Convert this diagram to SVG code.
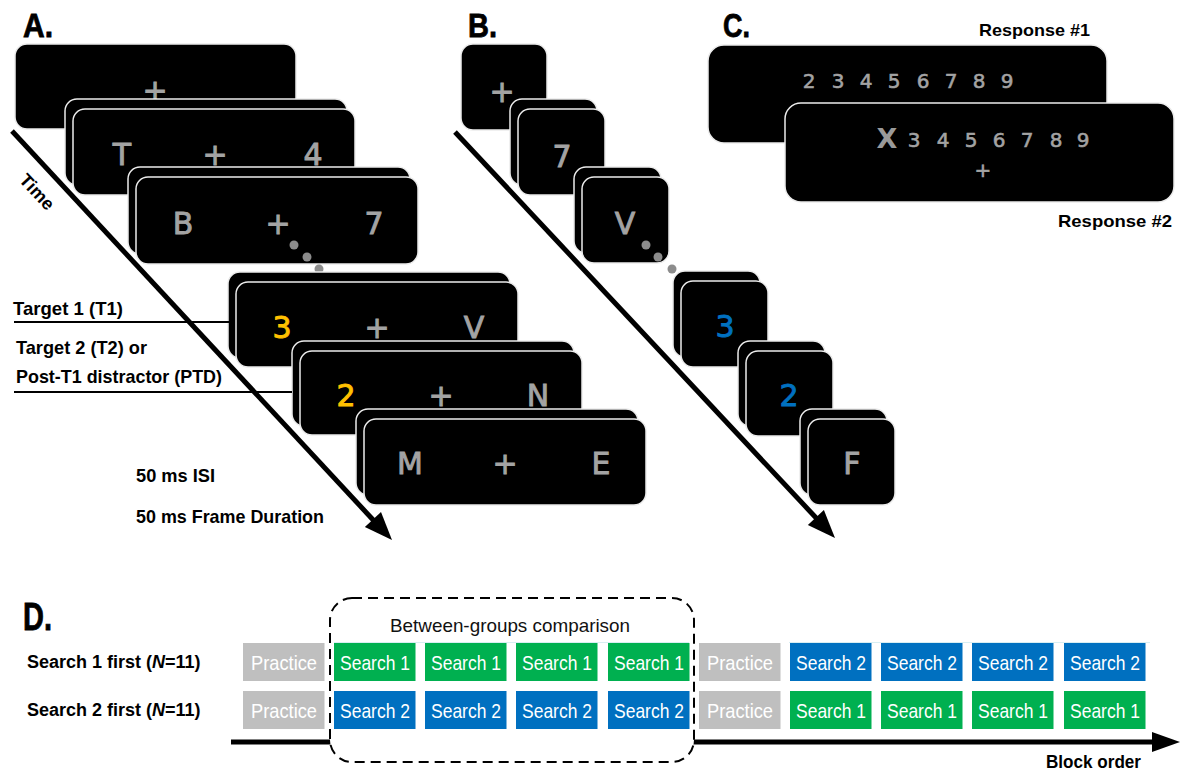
<svg xmlns="http://www.w3.org/2000/svg" width="1180" height="773" viewBox="0 0 1180 773">
  <style>
    .scr { fill: #000; stroke: #ececec; stroke-width: 1.5; }
    .ltr { font-family: "DejaVu Sans", sans-serif; font-size: 30px; fill: #a3a3a3; stroke: #a3a3a3; stroke-width: 0.9; text-anchor: middle; }
    .dig { font-family: "DejaVu Sans", sans-serif; font-size: 20px; fill: #a3a3a3; stroke: #a3a3a3; stroke-width: 0.6; text-anchor: middle; }
    .lab { font-family: "Liberation Sans", Arial, sans-serif; font-weight: bold; fill: #000; }
    .head { font-family: "Liberation Sans", Arial, sans-serif; font-weight: bold; fill: #000; stroke: #000; stroke-width: 0.8; }
    .dot { fill: #8c8c8c; }
    .blk text { font-family: "Liberation Sans", Arial, sans-serif; font-size: 21px; fill: #fff; text-anchor: middle; }
    .g { fill: #00b050; }
    .b { fill: #0070c0; }
    .p { fill: #bfbfbf; }
    .conn { stroke: #000; fill: none; }
  </style>

  <!-- Panel headings -->
  <text class="head" x="23" y="37" font-size="34" textLength="30" lengthAdjust="spacingAndGlyphs">A.</text>
  <text class="head" x="468" y="37" font-size="34" textLength="29" lengthAdjust="spacingAndGlyphs">B.</text>
  <text class="head" x="723" y="37" font-size="34" textLength="27" lengthAdjust="spacingAndGlyphs">C.</text>
  <text class="head" x="23" y="630" font-size="38" textLength="29" lengthAdjust="spacingAndGlyphs">D.</text>

  <!-- Panel A: RSVP stream -->
  <g id="a-fixation">
    <rect class="scr" x="15" y="44" width="281" height="85" rx="12"/>
    <text class="ltr" x="155" y="101">+</text>
  </g>
  <g id="a-frame-t4">
    <rect class="scr" x="65" y="99" width="282" height="86" rx="12"/>
    <rect class="scr" x="73" y="109" width="282" height="86" rx="12"/>
    <text class="ltr" x="122" y="165">T</text>
    <text class="ltr" x="215" y="165">+</text>
    <text class="ltr" x="313" y="165">4</text>
  </g>
  <g id="a-frame-b7">
    <rect class="scr" x="128" y="167" width="282" height="87" rx="12"/>
    <rect class="scr" x="136" y="177" width="282" height="87" rx="12"/>
    <text class="ltr" x="183" y="234">B</text>
    <text class="ltr" x="278" y="234">+</text>
    <text class="ltr" x="374" y="234">7</text>
    <circle class="dot" cx="294" cy="245" r="4.5"/>
    <circle class="dot" cx="307" cy="257" r="4.5"/>
  </g>
  <circle class="dot" cx="319" cy="269" r="4.5"/>
  <g id="a-frame-t1">
    <rect class="scr" x="228" y="272" width="282" height="86" rx="12"/>
    <rect class="scr" x="236" y="282" width="282" height="85" rx="12"/>
    <text class="ltr" x="282" y="338" style="fill:#ffc000;stroke:#ffc000">3</text>
    <text class="ltr" x="377" y="338">+</text>
    <text class="ltr" x="474" y="338">V</text>
  </g>
  <g id="a-frame-t2">
    <rect class="scr" x="292" y="341" width="282" height="85" rx="12"/>
    <rect class="scr" x="300" y="351" width="282" height="84" rx="12"/>
    <text class="ltr" x="346" y="406" style="fill:#ffc000;stroke:#ffc000">2</text>
    <text class="ltr" x="441" y="406">+</text>
    <text class="ltr" x="538" y="406">N</text>
  </g>
  <g id="a-frame-me">
    <rect class="scr" x="356" y="409" width="282" height="86" rx="12"/>
    <rect class="scr" x="364" y="419" width="282" height="86" rx="12"/>
    <text class="ltr" x="410" y="474">M</text>
    <text class="ltr" x="505" y="474">+</text>
    <text class="ltr" x="601" y="474">E</text>
  </g>

  <g id="a-labels">
    <text class="lab" x="13" y="315" font-size="19" textLength="110" lengthAdjust="spacingAndGlyphs">Target 1 (T1)</text>
    <text class="lab" x="16" y="354" font-size="19" textLength="131" lengthAdjust="spacingAndGlyphs">Target 2 (T2) or</text>
    <text class="lab" x="16" y="383" font-size="19" textLength="206" lengthAdjust="spacingAndGlyphs">Post-T1 distractor (PTD)</text>
    <text class="lab" x="136" y="482" font-size="19" textLength="79" lengthAdjust="spacingAndGlyphs">50 ms ISI</text>
    <text class="lab" x="136" y="523" font-size="19" textLength="188" lengthAdjust="spacingAndGlyphs">50 ms Frame Duration</text>
    <text class="lab" font-size="18" text-anchor="middle" transform="translate(37,192) rotate(47)" y="6" textLength="42" lengthAdjust="spacingAndGlyphs">Time</text>
  </g>

  <!-- Panel B: single-item stream -->
  <g id="b-fixation">
    <rect class="scr" x="461" y="44" width="86" height="86" rx="12"/>
    <text class="ltr" x="502" y="102">+</text>
  </g>
  <g id="b-frame-7">
    <rect class="scr" x="510" y="99" width="87" height="86" rx="12"/>
    <rect class="scr" x="518" y="109" width="87" height="86" rx="12"/>
    <text class="ltr" x="562" y="167">7</text>
  </g>
  <g id="b-frame-v">
    <rect class="scr" x="574" y="167" width="87" height="86" rx="12"/>
    <rect class="scr" x="582" y="177" width="87" height="86" rx="12"/>
    <text class="ltr" x="625" y="234">V</text>
    <circle class="dot" cx="646" cy="245" r="4.5"/>
    <circle class="dot" cx="658" cy="257" r="4.5"/>
  </g>
  <circle class="dot" cx="672" cy="269" r="4.5"/>
  <g id="b-frame-3">
    <rect class="scr" x="673" y="271" width="87" height="86" rx="12"/>
    <rect class="scr" x="681" y="281" width="87" height="86" rx="12"/>
    <text class="ltr" x="725" y="337" style="fill:#0070c0;stroke:#0070c0">3</text>
  </g>
  <g id="b-frame-2">
    <rect class="scr" x="738" y="341" width="87" height="85" rx="12"/>
    <rect class="scr" x="746" y="351" width="87" height="85" rx="12"/>
    <text class="ltr" x="789" y="406" style="fill:#0070c0;stroke:#0070c0">2</text>
  </g>
  <g id="b-frame-f">
    <rect class="scr" x="800" y="409" width="87" height="86" rx="12"/>
    <rect class="scr" x="808" y="419" width="87" height="86" rx="12"/>
    <text class="ltr" x="852" y="474">F</text>
  </g>

  <!-- Panel C: response screens -->
  <g id="c-response1">
    <rect class="scr" x="708" y="45" width="399" height="98" rx="16"/>
    <text class="dig" x="809" y="88">2</text>
    <text class="dig" x="838" y="88">3</text>
    <text class="dig" x="866" y="88">4</text>
    <text class="dig" x="894" y="88">5</text>
    <text class="dig" x="923" y="88">6</text>
    <text class="dig" x="951" y="88">7</text>
    <text class="dig" x="979" y="88">8</text>
    <text class="dig" x="1007" y="88">9</text>
    <text class="lab" x="979" y="36" font-size="17" textLength="111" lengthAdjust="spacingAndGlyphs">Response #1</text>
  </g>
  <g id="c-response2">
    <rect class="scr" x="785" y="103" width="389" height="99" rx="16"/>
    <text class="dig" x="887" y="148" style="font-size:27px;font-weight:bold;fill:#9a9a9a;stroke:none">X</text>
    <text class="dig" x="914" y="147">3</text>
    <text class="dig" x="943" y="147">4</text>
    <text class="dig" x="971" y="147">5</text>
    <text class="dig" x="999" y="147">6</text>
    <text class="dig" x="1027" y="147">7</text>
    <text class="dig" x="1056" y="147">8</text>
    <text class="dig" x="1083" y="147">9</text>
    <text class="dig" x="983" y="177">+</text>
    <text class="lab" x="1058" y="227" font-size="17" textLength="114" lengthAdjust="spacingAndGlyphs">Response #2</text>
  </g>

  <!-- Connectors -->
  <g id="connectors">
    <line class="conn" x1="12" y1="131" x2="376" y2="523" stroke-width="5"/>
    <polygon points="0,0 -28,-11 -28,11" transform="translate(392,540) rotate(47.1)"/>
    <line class="conn" x1="455" y1="132" x2="819" y2="521" stroke-width="5"/>
    <polygon points="0,0 -28,-11 -28,11" transform="translate(835,538) rotate(46.9)"/>
    <line class="conn" x1="14" y1="322" x2="229" y2="322" stroke-width="2"/>
    <line class="conn" x1="14" y1="392" x2="292" y2="392" stroke-width="2"/>
    <line class="conn" x1="231" y1="742" x2="1156" y2="742" stroke-width="5"/>
    <polygon points="1152,732 1180,742 1152,752"/>
  </g>

  <!-- Panel D: block order -->
  <g id="d-comparison">
    <rect x="330" y="598" width="364" height="164" rx="22" fill="#fff" stroke="#000" stroke-width="2" stroke-dasharray="10 6"/>
    <text x="390" y="632" font-family="Liberation Sans, Arial, sans-serif" font-size="19" fill="#111" textLength="240" lengthAdjust="spacingAndGlyphs">Between-groups comparison</text>
  </g>
  <line x1="334" y1="642.5" x2="689" y2="642.5" stroke="#d8eef2" stroke-width="1"/>
  <line x1="789" y1="642.5" x2="1150" y2="642.5" stroke="#d8eef2" stroke-width="1"/>

  <g id="d-group1">
    <text class="lab" x="27" y="668" font-size="18">Search 1 first (<tspan font-style="italic">N</tspan>=11)</text>
  </g>
  <g id="d-group2">
    <text class="lab" x="27" y="716" font-size="18">Search 2 first (<tspan font-style="italic">N</tspan>=11)</text>
  </g>

  <g id="d-row1" class="blk">
    <rect class="p" x="243" y="643" width="81.5" height="38"/><text x="284" y="670" textLength="66" lengthAdjust="spacingAndGlyphs">Practice</text>
    <rect class="g" x="334" y="643" width="81.5" height="38"/><text x="375" y="670" textLength="70" lengthAdjust="spacingAndGlyphs">Search 1</text>
    <rect class="g" x="425" y="643" width="81.5" height="38"/><text x="466" y="670" textLength="70" lengthAdjust="spacingAndGlyphs">Search 1</text>
    <rect class="g" x="516" y="643" width="81.5" height="38"/><text x="557" y="670" textLength="70" lengthAdjust="spacingAndGlyphs">Search 1</text>
    <rect class="g" x="608" y="643" width="81.5" height="38"/><text x="649" y="670" textLength="70" lengthAdjust="spacingAndGlyphs">Search 1</text>
    <rect class="p" x="699" y="643" width="81.5" height="38"/><text x="740" y="670" textLength="66" lengthAdjust="spacingAndGlyphs">Practice</text>
    <rect class="b" x="790" y="643" width="81.5" height="38"/><text x="831" y="670" textLength="70" lengthAdjust="spacingAndGlyphs">Search 2</text>
    <rect class="b" x="881" y="643" width="81.5" height="38"/><text x="922" y="670" textLength="70" lengthAdjust="spacingAndGlyphs">Search 2</text>
    <rect class="b" x="972" y="643" width="81.5" height="38"/><text x="1013" y="670" textLength="70" lengthAdjust="spacingAndGlyphs">Search 2</text>
    <rect class="b" x="1064" y="643" width="81.5" height="38"/><text x="1105" y="670" textLength="70" lengthAdjust="spacingAndGlyphs">Search 2</text>
  </g>
  <g id="d-row2" class="blk">
    <rect class="p" x="243" y="691" width="81.5" height="38"/><text x="284" y="718" textLength="66" lengthAdjust="spacingAndGlyphs">Practice</text>
    <rect class="b" x="334" y="691" width="81.5" height="38"/><text x="375" y="718" textLength="70" lengthAdjust="spacingAndGlyphs">Search 2</text>
    <rect class="b" x="425" y="691" width="81.5" height="38"/><text x="466" y="718" textLength="70" lengthAdjust="spacingAndGlyphs">Search 2</text>
    <rect class="b" x="516" y="691" width="81.5" height="38"/><text x="557" y="718" textLength="70" lengthAdjust="spacingAndGlyphs">Search 2</text>
    <rect class="b" x="608" y="691" width="81.5" height="38"/><text x="649" y="718" textLength="70" lengthAdjust="spacingAndGlyphs">Search 2</text>
    <rect class="p" x="699" y="691" width="81.5" height="38"/><text x="740" y="718" textLength="66" lengthAdjust="spacingAndGlyphs">Practice</text>
    <rect class="g" x="790" y="691" width="81.5" height="38"/><text x="831" y="718" textLength="70" lengthAdjust="spacingAndGlyphs">Search 1</text>
    <rect class="g" x="881" y="691" width="81.5" height="38"/><text x="922" y="718" textLength="70" lengthAdjust="spacingAndGlyphs">Search 1</text>
    <rect class="g" x="972" y="691" width="81.5" height="38"/><text x="1013" y="718" textLength="70" lengthAdjust="spacingAndGlyphs">Search 1</text>
    <rect class="g" x="1064" y="691" width="81.5" height="38"/><text x="1105" y="718" textLength="70" lengthAdjust="spacingAndGlyphs">Search 1</text>
  </g>

  <text class="lab" x="1046" y="768" font-size="19" textLength="95" lengthAdjust="spacingAndGlyphs">Block order</text>
</svg>
